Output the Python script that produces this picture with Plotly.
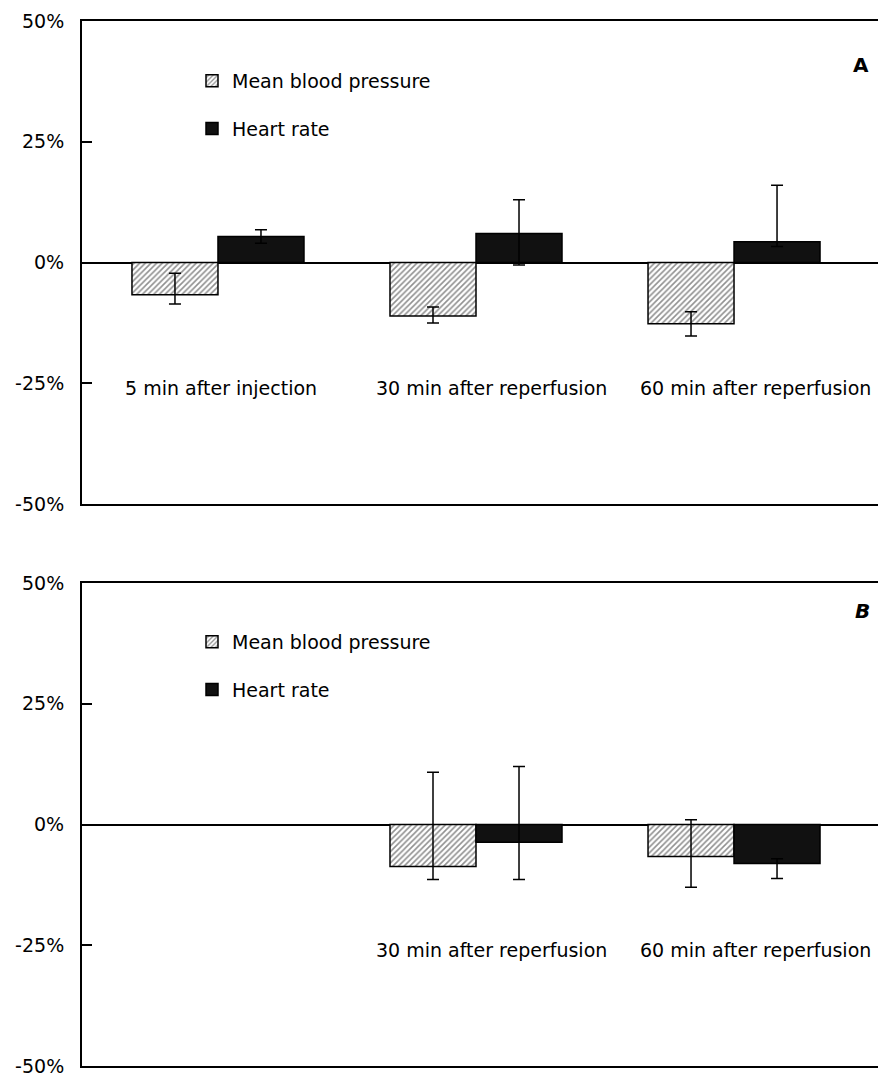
import plotly.graph_objects as go

categories = ["5 min after injection", "30 min after reperfusion", "60 min after reperfusion"]
cat_pos = [0, 1, 2]
label_xshift = [3, 15, 21]

# Panel A (percent change)
a_mbp = [-6.7, -11.1, -12.7]
a_mbp_up = [4.5, 1.9, 2.5]
a_mbp_dn = [1.9, 1.4, 2.5]
a_hr = [5.4, 6.0, 4.3]
a_hr_up = [1.4, 7.0, 11.7]
a_hr_dn = [1.4, 6.5, 1.0]

# Panel B (percent change) - no data 5 min after injection
b_mbp = [None, -8.7, -6.6]
b_mbp_up = [0, 19.5, 7.6]
b_mbp_dn = [0, 2.7, 6.4]
b_hr = [None, -3.7, -8.1]
b_hr_up = [0, 15.7, 1.0]
b_hr_dn = [0, 7.7, 3.1]

b_labels_shown = [False, True, True]

tick_vals = [-50, -25, 0, 25, 50]
tick_text = ["-50%", "-25%", "0%", "25%", "50%"]

FONT = "DejaVu Sans"

fig = go.Figure()

def add_panel(mbp, mbp_up, mbp_dn, hr, hr_up, hr_dn, xa, ya, leg):
    fig.add_trace(go.Bar(
        x=cat_pos, y=mbp, name="Mean blood pressure", xaxis=xa, yaxis=ya,
        legend=leg, legendgroup=leg + "m", offsetgroup="m",
        marker=dict(color="white", line=dict(color="black", width=1.5),
                    pattern=dict(shape="/", size=4, solidity=0.4, fgcolor="#222", bgcolor="white")),
        error_y=dict(type="data", symmetric=False, array=mbp_up, arrayminus=mbp_dn,
                     color="black", thickness=1.5, width=6),
    ))
    fig.add_trace(go.Bar(
        x=cat_pos, y=hr, name="Heart rate", xaxis=xa, yaxis=ya,
        legend=leg, legendgroup=leg + "h", offsetgroup="h",
        marker=dict(color="#111", line=dict(color="black", width=1.5)),
        error_y=dict(type="data", symmetric=False, array=hr_up, arrayminus=hr_dn,
                     color="black", thickness=1.5, width=6),
    ))

add_panel(a_mbp, a_mbp_up, a_mbp_dn, a_hr, a_hr_up, a_hr_dn, "x", "y", "legend")
add_panel(b_mbp, b_mbp_up, b_mbp_dn, b_hr, b_hr_up, b_hr_dn, "x2", "y2", "legend2")

# page has an 8px body margin; figure is sized to compensate
OFF = 8
W, H = 886 - OFF, 1078 - OFF
H_TOP, H_BOT = 21 - OFF, 12
plot_h = H - H_TOP - H_BOT
domA = [(1066 - 504) / plot_h, 1.0]
domB = [0.0, (1066 - 583) / plot_h]

xrange = [-0.527, 2.589]
xcommon = dict(range=xrange, showline=True, mirror=True, linecolor="black", linewidth=1.5,
               showticklabels=False, ticks="", showgrid=False, zeroline=False, fixedrange=True)
ycommon = dict(range=[-50, 50], tickvals=tick_vals, ticktext=tick_text, ticks="inside", ticklen=10,
               tickcolor="black", tickwidth=1.5, showline=True, linecolor="black", linewidth=2,
               showgrid=False, zeroline=True, zerolinecolor="black", zerolinewidth=1.5,
               tickfont=dict(family=FONT, size=19, color="black"), ticklabelstandoff=12)

annotations = []
for i, c in enumerate(categories):
    annotations.append(dict(x=cat_pos[i], y=-26, xref="x", yref="y", text=c, showarrow=False,
                            xshift=label_xshift[i], font=dict(family=FONT, size=19, color="black")))
    if b_labels_shown[i]:
        annotations.append(dict(x=cat_pos[i], y=-26, xref="x2", yref="y2", text=c, showarrow=False,
                                xshift=label_xshift[i], font=dict(family=FONT, size=19, color="black")))
annotations.append(dict(x=(865 - 82) / 804, y=(1066 - 51) / plot_h, xref="paper", yref="paper",
                        text="<b>A</b>", showarrow=False, xshift=6,
                        font=dict(family=FONT, size=20, color="black")))
annotations.append(dict(x=(866 - 82) / 804, y=(1066 - 611) / plot_h, xref="paper", yref="paper",
                        text="<b><i>B</i></b>", showarrow=False, xshift=6,
                        font=dict(family=FONT, size=20, color="black")))

legend_common = dict(xanchor="left", yanchor="top", bgcolor="rgba(0,0,0,0)",
                     font=dict(family=FONT, size=19, color="black"), tracegroupgap=20,
                     itemclick=False, itemdoubleclick=False)

fig.update_layout(
    width=W, height=H,
    margin=dict(l=82 - OFF, r=0, t=H_TOP, b=H_BOT),
    paper_bgcolor="white", plot_bgcolor="white",
    barmode="group", bargap=1/3, bargroupgap=0,
    xaxis=dict(domain=[0, 1], anchor="y", **xcommon),
    yaxis=dict(domain=domA, anchor="x", **ycommon),
    xaxis2=dict(domain=[0, 1], anchor="y2", **xcommon),
    yaxis2=dict(domain=domB, anchor="x2", **ycommon),
    legend=dict(x=(192 - 82) / 804, y=(1066 - 62) / plot_h, **legend_common),
    legend2=dict(x=(192 - 82) / 804, y=(1066 - 623) / plot_h, **legend_common),
    annotations=annotations,
    showlegend=True,
)

fig.write_html("out.html")
